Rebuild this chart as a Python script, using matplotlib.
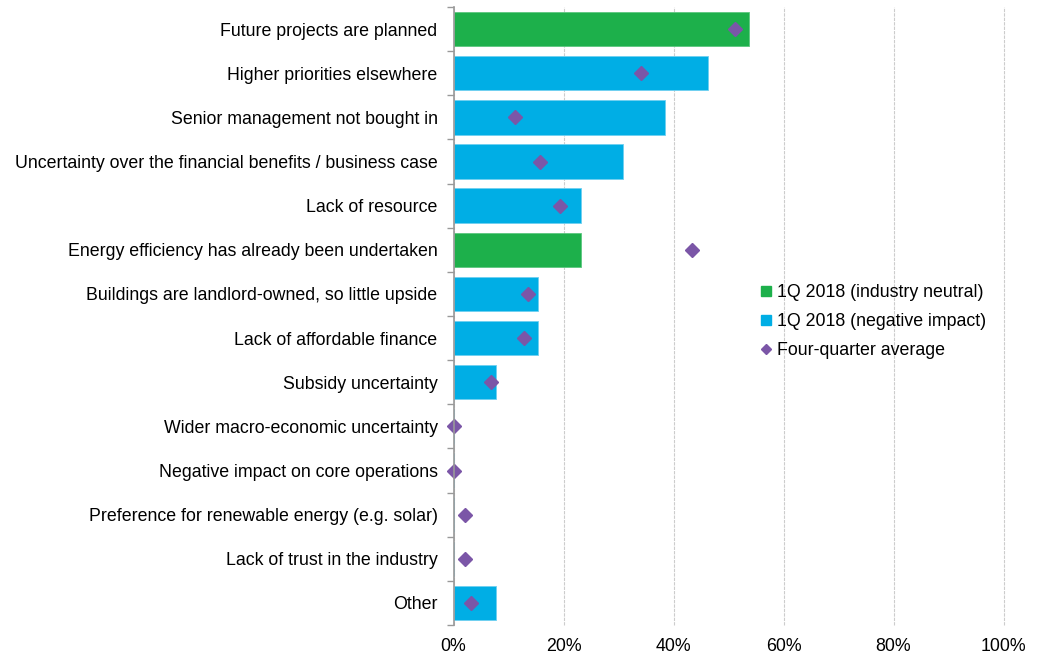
import matplotlib.pyplot as plt
from matplotlib.lines import Line2D
from matplotlib.ticker import FuncFormatter, MultipleLocator
import numpy as np

plt.rcParams['font.family'] = ['Liberation Sans', 'DejaVu Sans']

categories = [
    'Future projects are planned',
    'Higher priorities elsewhere',
    'Senior management not bought in',
    'Uncertainty over the financial benefits / business case',
    'Lack of resource',
    'Energy efficiency has already been undertaken',
    'Buildings are landlord-owned, so little upside',
    'Lack of affordable finance',
    'Subsidy uncertainty',
    'Wider macro-economic uncertainty',
    'Negative impact on core operations',
    'Preference for renewable energy (e.g. solar)',
    'Lack of trust in the industry',
    'Other',
]
# share of respondents, 1Q 2018 (13 responses)
q1_2018 = [53.8, 46.2, 38.5, 30.8, 23.1, 23.1, 15.4, 15.4, 7.7, 0, 0, 0, 0, 7.7]
neutral = [True, False, False, False, False, True, False, False, False, False, False, False, False, False]
four_q_avg = [51.1, 34.1, 11.2, 15.7, 19.4, 43.3, 13.6, 12.9, 6.8, 0, 0, 2.1, 2.1, 3.1]

green = '#1db04b'
blue = '#00aee5'
purple = '#7b56a7'
fs = 12.8

fig = plt.figure(figsize=(10.4, 6.57), dpi=100)
ax = fig.add_axes([453.5 / 1040, 32 / 657, 550 / 1040, 618 / 657])

y = np.arange(len(categories))
colors = [green if n else blue for n in neutral]
edges = ['#5cc77f' if n else '#6fd0f0' for n in neutral]
ax.barh(y, q1_2018, height=0.78, color=colors, edgecolor=edges, linewidth=0.6, zorder=2)
ax.plot(four_q_avg, y, linestyle='none', marker='D', markersize=7.5,
        color=purple, zorder=3, clip_on=False)

ax.set_ylim(len(categories) - 0.5, -0.5)
ax.set_xlim(0, 100)
ax.set_yticks(y)
ax.set_yticklabels(categories, fontsize=fs)
ax.set_yticks(np.arange(-0.5, len(categories)), minor=True)
ax.tick_params(axis='y', which='major', length=0, pad=11.5)
ax.tick_params(axis='y', which='minor', length=5, color='#999999', width=1)

ax.xaxis.set_major_locator(MultipleLocator(20))
ax.xaxis.set_major_formatter(FuncFormatter(lambda v, p: f'{v:.0f}%'))
ax.tick_params(axis='x', length=0, labelsize=fs, pad=9.5)
ax.grid(axis='x', color='#cccccc', linestyle=(0, (3, 1)), linewidth=0.8, zorder=0)
for gl in ax.get_xgridlines():
    gl.set_clip_on(False)

for side in ['top', 'right', 'bottom']:
    ax.spines[side].set_visible(False)
ax.spines['left'].set_color('#999999')
ax.spines['left'].set_linewidth(1.2)
ax.spines['left'].set_zorder(4)

handles = [
    Line2D([], [], linestyle='none', marker='s', markersize=7, color=green,
           label='1Q 2018 (industry neutral)'),
    Line2D([], [], linestyle='none', marker='s', markersize=7, color=blue,
           label='1Q 2018 (negative impact)'),
    Line2D([], [], linestyle='none', marker='D', markersize=5.5, color=purple,
           label='Four-quarter average'),
]
fig.legend(handles=handles, loc='upper left', bbox_to_anchor=(748 / 1040, 1 - 275 / 657),
           frameon=False, fontsize=fs, handletextpad=0.15, handlelength=1.0,
           labelspacing=0.68, borderpad=0)

fig.savefig('out.png', dpi=100)
